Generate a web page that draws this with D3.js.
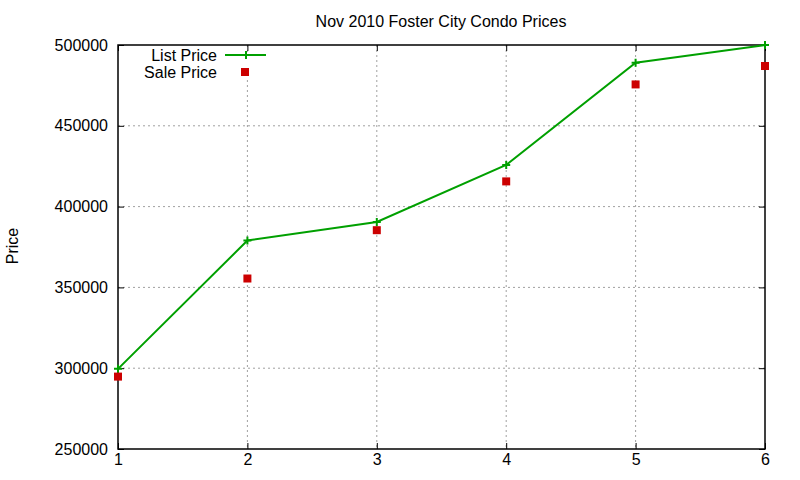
<!DOCTYPE html>
<html>
<head>
<meta charset="utf-8">
<script src="https://cdn.jsdelivr.net/npm/d3@7"></script>
<style>
  body { margin: 0; background: #fff; }
  svg { display: block; font-family: "Liberation Sans", Arial, sans-serif; }
</style>
</head>
<body>
<script>
// data
var months = [1, 2, 3, 4, 5, 6];
var listPrice = [299600, 379000, 390500, 425800, 489000, 500000];
var salePrice = [294800, 355500, 385400, 415600, 475600, 487000];
var yTicks = [250000, 300000, 350000, 400000, 450000, 500000];

var width = 800, height = 480;
var margin = {top: 45, right: 35, bottom: 31, left: 118};
var w = width - margin.left - margin.right,
    h = height - margin.top - margin.bottom;

var svg = d3.select("body").append("svg")
    .attr("width", width)
    .attr("height", height);

var x = d3.scaleLinear().domain([1, 6]).range([0, w]);
var y = d3.scaleLinear().domain([250000, 500000]).range([h, 0]);

var g = svg.append("g")
    .attr("transform", "translate(" + margin.left + "," + margin.top + ")");

// grid
g.append("g").selectAll("line")
    .data(months.slice(1, -1))
    .enter().append("line")
    .attr("x1", d => x(d)).attr("x2", d => x(d))
    .attr("y1", 0).attr("y2", h)
    .attr("stroke", "#a0a0a0").attr("stroke-dasharray", "2,3");
g.append("g").selectAll("line")
    .data(yTicks.slice(1, -1))
    .enter().append("line")
    .attr("x1", 0).attr("x2", w)
    .attr("y1", d => y(d)).attr("y2", d => y(d))
    .attr("stroke", "#a0a0a0").attr("stroke-dasharray", "2,3");

// axes: ticks pointing inward on all four sides
var tickLen = 6;
var axLeft = g.append("g").call(d3.axisLeft(y).tickValues(yTicks).tickSize(-tickLen).tickPadding(10).tickFormat(d3.format("d")));
var axBottom = g.append("g").attr("transform", "translate(0," + h + ")")
    .call(d3.axisBottom(x).tickValues(months).tickSize(-tickLen).tickPadding(10).tickFormat(d3.format("d")));
var axRight = g.append("g").attr("transform", "translate(" + w + ",0)")
    .call(d3.axisRight(y).tickValues(yTicks).tickSize(-tickLen).tickFormat(""));
var axTop = g.append("g")
    .call(d3.axisTop(x).tickValues(months).tickSize(-tickLen).tickFormat(""));
[axLeft, axBottom, axRight, axTop].forEach(function (a) {
    a.select(".domain").remove();
    a.selectAll("line").attr("stroke", "#000");
    a.selectAll("text").attr("fill", "#000").attr("font-size", 16)
        .attr("font-family", "Liberation Sans, Arial, sans-serif");
});
axBottom.selectAll("text").attr("dy", "0.71em").attr("y", 5);
axLeft.selectAll("text").attr("x", -10);

// border
g.append("rect").attr("width", w).attr("height", h)
    .attr("fill", "none").attr("stroke", "#000").attr("stroke-width", 1.5);

// legend background hides the grid
var legend = g.append("g");
legend.append("rect")
    .attr("x", 20).attr("y", 7)
    .attr("width", 160).attr("height", 28)
    .attr("fill", "#fff");

// list price line
var line = d3.line().x((d, i) => x(months[i])).y(d => y(d));
g.append("path")
    .datum(listPrice)
    .attr("fill", "none")
    .attr("stroke", "#00a000")
    .attr("stroke-width", 2)
    .attr("d", line);

function cross(sel, cx, cy) {
    sel.append("path")
        .attr("d", "M" + (cx - 4) + "," + cy + "H" + (cx + 4) + "M" + cx + "," + (cy - 4) + "V" + (cy + 4))
        .attr("stroke", "#00a000").attr("stroke-width", 2).attr("fill", "none");
}
listPrice.forEach(function (d, i) { cross(g, x(months[i]), y(d)); });

// sale price points
g.append("g").selectAll("rect")
    .data(salePrice)
    .enter().append("rect")
    .attr("x", (d, i) => x(months[i]) - 4)
    .attr("y", d => y(d) - 4)
    .attr("width", 8).attr("height", 8)
    .attr("fill", "#cc0000");

// legend entries
legend.append("text").attr("x", 99).attr("y", 10).attr("dy", "0.35em")
    .attr("text-anchor", "end").attr("font-size", 16).text("List Price");
legend.append("line").attr("x1", 107).attr("x2", 148).attr("y1", 10).attr("y2", 10)
    .attr("stroke", "#00a000").attr("stroke-width", 2);
cross(legend, 128, 10);
legend.append("text").attr("x", 99).attr("y", 27).attr("dy", "0.35em")
    .attr("text-anchor", "end").attr("font-size", 16).text("Sale Price");
legend.append("rect").attr("x", 123).attr("y", 23).attr("width", 8).attr("height", 8)
    .attr("fill", "#cc0000");

// title and y label
svg.append("text")
    .attr("x", 441).attr("y", 27)
    .attr("text-anchor", "middle")
    .attr("font-size", 16)
    .text("Nov 2010 Foster City Condo Prices");
svg.append("text")
    .attr("transform", "translate(18,246) rotate(-90)")
    .attr("text-anchor", "middle")
    .attr("font-size", 16)
    .text("Price");
</script>
</body>
</html>
